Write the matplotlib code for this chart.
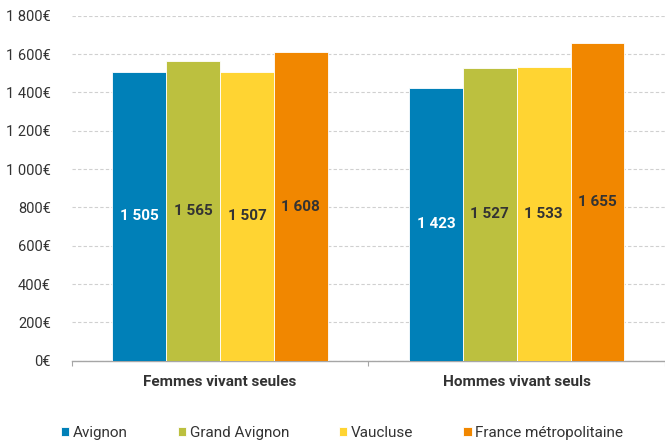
import matplotlib
matplotlib.use("Agg")
import matplotlib.pyplot as plt
import numpy as np
from matplotlib.ticker import FuncFormatter

plt.rcParams['font.family'] = ['Roboto', 'DejaVu Sans']

categories = ["Femmes vivant seules", "Hommes vivant seuls"]
series_names = ["Avignon", "Grand Avignon", "Vaucluse", "France métropolitaine"]
values = {
    "Avignon": [1505, 1423],
    "Grand Avignon": [1565, 1527],
    "Vaucluse": [1507, 1533],
    "France métropolitaine": [1608, 1655],
}
colors = ["#0080b8", "#bcc03f", "#ffd432", "#f18700"]
label_colors = ["white", "#333333", "#333333", "#333333"]
yticks = [0, 200, 400, 600, 800, 1000, 1200, 1400, 1600, 1800]

W, H = 665, 443
fig = plt.figure(figsize=(W / 100, H / 100), dpi=100)
ax = fig.add_axes([71.7 / W, 1 - 360.7 / H, (665 - 71.7) / W, (360.7 - 15.7) / H])

x = np.arange(len(categories))
width = 0.1817
for i, name in enumerate(series_names):
    pos = x + (i - 1.5) * width
    vals = values[name]
    ax.bar(pos, vals, width=width, color=colors[i], edgecolor="white",
           linewidth=0.6, zorder=3, label=name)
    for xp, v in zip(pos, vals):
        ax.text(xp, v / 2, f"{v:,}".replace(",", " "), ha="center", va="center",
                fontsize=11, fontweight="bold", color=label_colors[i], zorder=4)

ax.set_ylim(0, 1800)
ax.set_xlim(-0.498, 1.48)
ax.set_yticks(yticks)
ax.yaxis.set_major_formatter(FuncFormatter(lambda v, p: f"{int(v):,}".replace(",", " ") + "€"))
ax.tick_params(axis="y", length=0, pad=15, labelsize=10.5, labelcolor="#333333")
ax.grid(axis="y", color="#d0d0d0", linestyle=(0, (3, 2)), linewidth=0.8, zorder=0)

ax.set_xticks(x)
ax.set_xticklabels(categories, fontsize=11, fontweight="bold", color="#333333")
ax.tick_params(axis="x", which="major", length=0, pad=10)
ax.set_xticks([-0.5, 0.5, 1.5], minor=True)
ax.tick_params(axis="x", which="minor", length=3.5, width=0.8, color="#a6a6a6", direction="out")

for s in ["top", "right", "left"]:
    ax.spines[s].set_visible(False)
ax.spines["bottom"].set_color("#a6a6a6")
ax.spines["bottom"].set_linewidth(1.0)

leg = fig.legend(loc="center left", bbox_to_anchor=(61 / W, 1 - 432.7 / H), ncol=4,
                 frameon=False, fontsize=11, handlelength=0.55, handleheight=0.55,
                 handletextpad=0.25, columnspacing=3.25, borderaxespad=0, borderpad=0)
for t in leg.get_texts():
    t.set_color("#333333")

fig.savefig("out.png", dpi=100)
